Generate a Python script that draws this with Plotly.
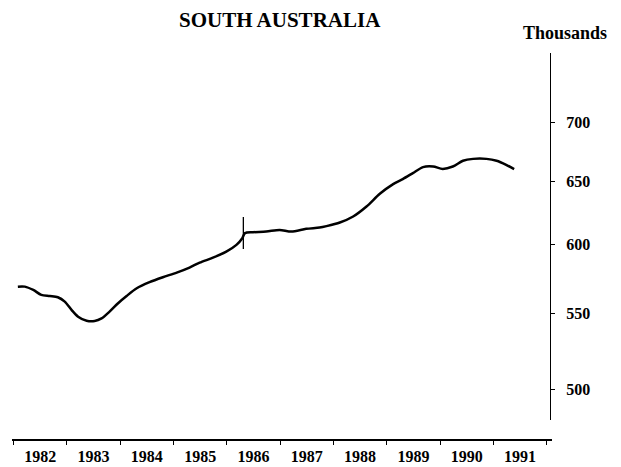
import plotly.graph_objects as go

# Data (decimal year, thousands)
years = [1982.08, 1982.21, 1982.37, 1982.52, 1982.68, 1982.83, 1982.96, 1983.09, 1983.21,
         1983.37, 1983.52, 1983.65, 1983.80, 1983.96, 1984.12, 1984.31, 1984.55, 1984.80,
         1985.06, 1985.30, 1985.49, 1985.74, 1985.99, 1986.18, 1986.29, 1986.34, 1986.49,
         1986.74, 1986.99, 1987.21, 1987.49, 1987.74, 1987.87, 1988.12, 1988.37, 1988.62,
         1988.87, 1989.12, 1989.30, 1989.49, 1989.68, 1989.87, 1990.05, 1990.24, 1990.43,
         1990.62, 1990.87, 1991.06, 1991.24, 1991.39]
values = [569.1, 569.1, 566.7, 563.2, 562.4, 561.5, 558.4, 552.5, 547.9,
          545.1, 544.9, 546.7, 551.4, 557.3, 562.4, 567.9, 572.3, 575.9,
          579.3, 583.0, 586.6, 590.3, 594.8, 599.9, 605.0, 608.9, 609.6,
          610.1, 611.4, 610.1, 612.2, 613.2, 614.3, 617.1, 621.8, 629.7,
          639.9, 647.8, 651.9, 656.9, 661.9, 662.4, 660.4, 662.4, 667.2,
          668.8, 668.8, 667.2, 663.8, 660.2]

break_year = 1986.31
break_low, break_high = 596.9, 621.5

year_ticks = list(range(1982, 1993))
year_labels = [str(y) for y in range(1982, 1992)]
year_centers = [y + 0.5 for y in range(1982, 1992)]
y_ticks = [500, 550, 600, 650, 700]

FONT = "Liberation Serif"

fig = go.Figure()
fig.add_trace(go.Scatter(x=years, y=values, mode="lines",
                         line=dict(color="black", width=2.5, shape="spline", smoothing=0.8),
                         hoverinfo="skip", showlegend=False))
fig.add_trace(go.Scatter(x=[break_year, break_year], y=[break_low, break_high], mode="lines",
                         line=dict(color="black", width=1.3), hoverinfo="skip", showlegend=False))

L, R, T, B = 12, 69, 53, 27
W, H = 621, 467
plot_w = W - L - R
plot_h = H - T - B

fig.update_layout(
    width=W, height=H,
    margin=dict(l=L, r=R, t=T, b=B, pad=0, autoexpand=False),
    paper_bgcolor="white", plot_bgcolor="white",
    showlegend=False,
    xaxis=dict(
        range=[1981.97, 1992.1], domain=[0, 1],
        anchor="free", position=0, automargin=False,
        showgrid=False, zeroline=False,
        showline=True, linecolor="black", linewidth=1.5,
        tickmode="array", tickvals=year_centers, ticktext=year_labels, ticks="",
        ticklabelstandoff=2,
        tickfont=dict(family=FONT, size=16, color="black", weight="bold"),
        minor=dict(tickmode="array", tickvals=year_ticks, ticks="outside", ticklen=4,
                   tickwidth=1.3, tickcolor="black", showgrid=False),
    ),
    yaxis=dict(
        type="log",
        range=[2.6820, 2.8834], domain=[0.0517, 1],
        anchor="free", position=(550 - L) / plot_w, side="right", automargin=False,
        showgrid=False, zeroline=False,
        showline=True, linecolor="black", linewidth=1.3,
        tickmode="array", tickvals=y_ticks, ticktext=[str(v) for v in y_ticks],
        ticks="outside", ticklen=4, tickwidth=1.3, tickcolor="black",
        ticklabelstandoff=8,
        tickfont=dict(family=FONT, size=16, color="black", weight="bold"),
    ),
    annotations=[
        dict(text="SOUTH AUSTRALIA", xref="paper", yref="paper",
             x=(280 - L) / plot_w, y=(H - B - 20) / plot_h, xanchor="center", yanchor="middle",
             showarrow=False, font=dict(family=FONT, size=21, color="black", weight="bold")),
        dict(text="Thousands", xref="paper", yref="paper",
             x=(565 - L) / plot_w, y=(H - B - 33) / plot_h, xanchor="center", yanchor="middle",
             showarrow=False, font=dict(family=FONT, size=18, color="black", weight="bold")),
    ],
)

fig.write_html("out.html", config={"displayModeBar": False},
               post_script="document.body.style.margin='0';")
